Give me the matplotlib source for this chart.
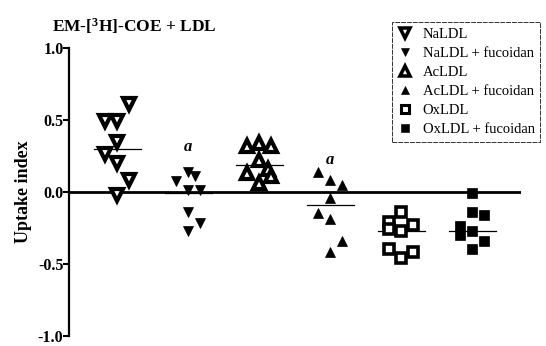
import numpy as np
import matplotlib
matplotlib.use("Agg")
import matplotlib.pyplot as plt
from matplotlib.lines import Line2D

# ---- data ----
group_labels = ["NaLDL", "NaLDL + fucoidan", "AcLDL", "AcLDL + fucoidan",
                "OxLDL", "OxLDL + fucoidan"]

na_vals = [0.49, 0.49, 0.61, 0.35, 0.26, 0.20, 0.08, -0.02]
na_fuc_vals = [0.075, 0.14, 0.11, 0.01, 0.01, -0.14, -0.27, -0.22]
ac_vals = [0.32, 0.34, 0.32, 0.22, 0.13, 0.16, 0.11, 0.06]
ac_fuc_vals = [0.14, 0.08, 0.05, -0.04, -0.15, -0.19, -0.34, -0.42]
ox_vals = [-0.14, -0.21, -0.26, -0.27, -0.23, -0.40, -0.46, -0.42]
ox_fuc_vals = [-0.01, -0.14, -0.16, -0.24, -0.30, -0.27, -0.34, -0.40]

# horizontal scatter slot of each point (-1 left, 0 centre, 1 right)
na_off = [-1, 0, 1, 0, -1, 0, 1, 0]
na_fuc_off = [-1, 0, 0.6, 0, 1, 0, 0, 1]
ac_off = [-1, 0, 1, 0, -1, 0.7, 1, 0]
ac_fuc_off = [-1, 0, 1, 0, -1, 0, 1, 0]
ox_off = [0, -1, -1, 0, 1, -1, 0, 1]
ox_fuc_off = [0, 0, 1, -1, -1, 0, 1, 0]

group_means = [0.30, -0.01, 0.185, -0.09, -0.27, -0.27]
sig_groups = [2, 4]          # groups marked "a"
sig_y = [0.31, 0.22]

yticks = [-1.0, -0.5, 0.0, 0.5, 1.0]

plt.rcParams['font.family'] = ['Liberation Serif', 'DejaVu Serif']
plt.rcParams['mathtext.fontset'] = 'custom'
plt.rcParams['mathtext.rm'] = 'Liberation Serif:bold'
plt.rcParams['mathtext.it'] = 'Liberation Serif:bold'

fig = plt.figure(figsize=(5.46, 3.46), dpi=100)
ax = fig.add_axes([0.1264, 0.03, 0.828, 0.831])

SLOT = 0.17
styles = [
    dict(marker='v', ms=8.0, mfc='white', mec='black', mew=3.0),
    dict(marker='v', ms=6.5, mfc='black', mec='black', mew=0.5),
    dict(marker='^', ms=8.0, mfc='white', mec='black', mew=3.0),
    dict(marker='^', ms=6.5, mfc='black', mec='black', mew=0.5),
    dict(marker='s', ms=6.5, mfc='white', mec='black', mew=2.6),
    dict(marker='s', ms=7.0, mfc='black', mec='black', mew=0.5),
]
all_vals = [na_vals, na_fuc_vals, ac_vals, ac_fuc_vals, ox_vals, ox_fuc_vals]
all_offs = [na_off, na_fuc_off, ac_off, ac_fuc_off, ox_off, ox_fuc_off]

# zero line
ax.axhline(0, color='black', lw=2.0, zorder=1)

handles = []
for i, (vals, offs, st) in enumerate(zip(all_vals, all_offs, styles)):
    xc = i + 1
    xs = xc + np.array(offs) * SLOT
    ax.plot(xs, vals, linestyle='none', color='black', zorder=3, **st)
    ax.plot([xc - 0.33, xc + 0.33], [group_means[i]] * 2, color='black',
            lw=0.9, zorder=2)
    hst = dict(st)
    hst['ms'] = st['ms'] * 0.85
    hst['mew'] = st['mew'] * 0.85
    handles.append(Line2D([], [], linestyle='none', color='black', **hst))

for g, yv in zip(sig_groups, sig_y):
    ax.text(g, yv, 'a', ha='center', va='center', fontsize=12,
            fontstyle='italic', fontweight='bold')

ax.set_xlim(0.32, 6.69)
ax.set_ylim(-1.0, 1.0)
ax.set_yticks(yticks)
ax.set_yticklabels([f"{v:.1f}" for v in yticks], fontsize=11.5, fontweight='bold')
ax.tick_params(axis='y', direction='out', length=4, width=1.5, pad=0)
ax.set_xticks([])
for s in ['top', 'right', 'bottom']:
    ax.spines[s].set_visible(False)
ax.spines['left'].set_linewidth(1.6)

ax.set_ylabel('Uptake index', fontsize=13, fontweight='bold', labelpad=4)

fig.text(0.245, 0.925, r'EM-[$^3$H]-COE + LDL', ha='center', va='center',
         fontsize=12.5, fontweight='bold')

leg = ax.legend(handles, group_labels, loc='upper left',
                bbox_to_anchor=(392 / 546, 1 - 22 / 346),
                bbox_transform=fig.transFigure, fontsize=10.5,
                frameon=True, fancybox=False, borderpad=0.4,
                labelspacing=0.4, handlelength=1.0, handletextpad=0.7,
                borderaxespad=0)
frame = leg.get_frame()
frame.set_edgecolor('black')
frame.set_linewidth(0.7)
frame.set_linestyle((0, (5, 1)))

fig.savefig('out.png', dpi=100)
